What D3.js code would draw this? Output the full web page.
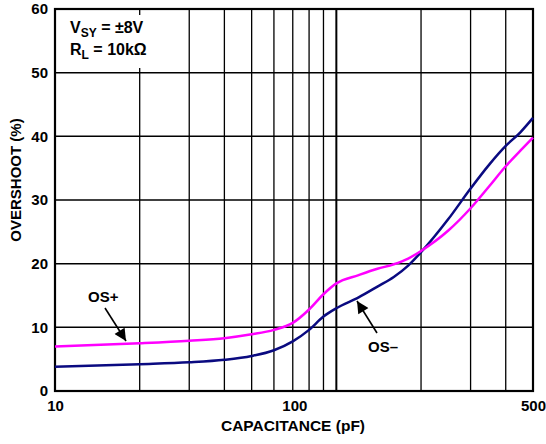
<!DOCTYPE html>
<html>
<head>
<meta charset="utf-8">
<script src="https://cdn.jsdelivr.net/npm/d3@7"></script>
<style>
  body { margin: 0; background: #fff; }
  text { font-family: "Liberation Sans", Arial, sans-serif; font-weight: bold; fill: #000; }
</style>
</head>
<body>
<script>
//-----------------------------------------data-------------------------------------------

var capacitance = [10, 20, 30, 40, 50, 60, 70, 80, 90, 100, 120, 140, 160, 180, 200, 250, 300, 350, 400, 450, 500];
var osPlus  = [7.0, 7.5, 7.9, 8.3, 8.9, 9.6, 10.7, 12.8, 15.2, 16.9, 18.2, 19.2, 19.9, 20.8, 22.0, 25.2, 28.7, 32.2, 35.3, 37.7, 39.8];
var osMinus = [3.8, 4.2, 4.5, 4.9, 5.5, 6.4, 7.8, 9.6, 11.7, 13.0, 14.7, 16.4, 17.9, 19.7, 21.8, 27.0, 31.8, 35.6, 38.5, 40.6, 42.9];

var xGrid = [20, 30, 40, 50, 60, 70, 80, 90, 100, 200, 300, 400];
var xTicks = [10, 100, 500];
var yTicks = [0, 10, 20, 30, 40, 50, 60];

//-----------------------------------------SVG-------------------------------------------

var svg = d3.select("body")
  .append("svg")
  .attr("width", 546)
  .attr("height", 444);

var plotLeft = 55, plotRight = 533, plotTop = 9, plotBottom = 391;

var x = d3.scaleLog().domain([10, 500]).range([plotLeft, plotRight]);
var y = d3.scaleLinear().domain([0, 60]).range([plotBottom, plotTop]);

//-----------------------------------------grid-------------------------------------------

svg.append("g")
  .selectAll("line")
  .data(xGrid)
  .enter().append("line")
  .attr("x1", function(d) { return x(d); })
  .attr("x2", function(d) { return x(d); })
  .attr("y1", plotTop)
  .attr("y2", plotBottom)
  .attr("stroke", "#000")
  .attr("stroke-width", function(d) { return d === 100 ? 2 : 1.3; });

svg.append("g")
  .selectAll("line")
  .data(yTicks.slice(1, -1))
  .enter().append("line")
  .attr("x1", plotLeft)
  .attr("x2", plotRight)
  .attr("y1", function(d) { return y(d); })
  .attr("y2", function(d) { return y(d); })
  .attr("stroke", "#000")
  .attr("stroke-width", 1.5);

// white box behind the conditions text
svg.append("rect")
  .attr("x", plotLeft + 2)
  .attr("y", 15)
  .attr("width", 105)
  .attr("height", 53)
  .attr("fill", "#fff");

svg.append("rect")
  .attr("x", plotLeft)
  .attr("y", plotTop)
  .attr("width", plotRight - plotLeft)
  .attr("height", plotBottom - plotTop)
  .attr("fill", "none")
  .attr("stroke", "#000")
  .attr("stroke-width", 2.2);

//-----------------------------------------axes-------------------------------------------

var xAxis = svg.append("g")
  .attr("transform", "translate(0," + plotBottom + ")")
  .call(d3.axisBottom(x).tickValues(xTicks).tickFormat(d3.format("d")).tickSize(0).tickPadding(9));

xAxis.select(".domain").remove();
xAxis.selectAll("text")
  .style("font-size", "15px")
  .attr("dx", function(d) { return d === 100 ? -42 : 0; });

var yAxis = svg.append("g")
  .attr("transform", "translate(" + plotLeft + ",0)")
  .call(d3.axisLeft(y).tickValues(yTicks).tickSize(0).tickPadding(7));

yAxis.select(".domain").remove();
yAxis.selectAll("text").style("font-size", "15px");

svg.append("text")
  .attr("x", 293)
  .attr("y", 431)
  .attr("text-anchor", "middle")
  .style("font-size", "15.5px")
  .text("CAPACITANCE (pF)");

svg.append("text")
  .attr("transform", "translate(21,180) rotate(-90)")
  .attr("text-anchor", "middle")
  .style("font-size", "15px")
  .text("OVERSHOOT (%)");

//-----------------------------------------curves-------------------------------------------

var line = d3.line()
  .x(function(d) { return x(d[0]); })
  .y(function(d) { return y(d[1]); })
  .curve(d3.curveMonotoneX);

svg.append("path")
  .datum(d3.zip(capacitance, osMinus))
  .attr("d", line)
  .attr("fill", "none")
  .attr("stroke", "#0a0a80")
  .attr("stroke-width", 2.5);

svg.append("path")
  .datum(d3.zip(capacitance, osPlus))
  .attr("d", line)
  .attr("fill", "none")
  .attr("stroke", "#ff00ff")
  .attr("stroke-width", 2.5);

//-----------------------------------------labels-------------------------------------------

svg.append("defs").append("marker")
  .attr("id", "head")
  .attr("viewBox", "0 0 10 10")
  .attr("refX", 10)
  .attr("refY", 5)
  .attr("markerWidth", 14)
  .attr("markerHeight", 12)
  .attr("markerUnits", "userSpaceOnUse")
  .attr("orient", "auto")
  .append("path")
  .attr("d", "M0,0 L10,5 L0,10 z")
  .attr("fill", "#000");

svg.append("line")
  .attr("x1", 105).attr("y1", 308)
  .attr("x2", 126).attr("y2", 341)
  .attr("stroke", "#000")
  .attr("stroke-width", 1.6)
  .attr("marker-end", "url(#head)");

svg.append("line")
  .attr("x1", 377).attr("y1", 333)
  .attr("x2", 357).attr("y2", 301)
  .attr("stroke", "#000")
  .attr("stroke-width", 1.6)
  .attr("marker-end", "url(#head)");

svg.append("text")
  .attr("x", 88).attr("y", 302)
  .style("font-size", "15px")
  .text("OS+");

svg.append("text")
  .attr("x", 368).attr("y", 352)
  .style("font-size", "15px")
  .text("OS–");

var cond = svg.append("text")
  .attr("x", 70).attr("y", 33)
  .style("font-size", "16px");
cond.append("tspan").text("V");
cond.append("tspan").attr("dy", 4).style("font-size", "12px").text("SY");
cond.append("tspan").attr("dy", -4).text(" = ±8V");

var cond2 = svg.append("text")
  .attr("x", 70).attr("y", 55)
  .style("font-size", "16px");
cond2.append("tspan").text("R");
cond2.append("tspan").attr("dy", 4).style("font-size", "12px").text("L");
cond2.append("tspan").attr("dy", -4).text(" = 10kΩ");
</script>
</body>
</html>
